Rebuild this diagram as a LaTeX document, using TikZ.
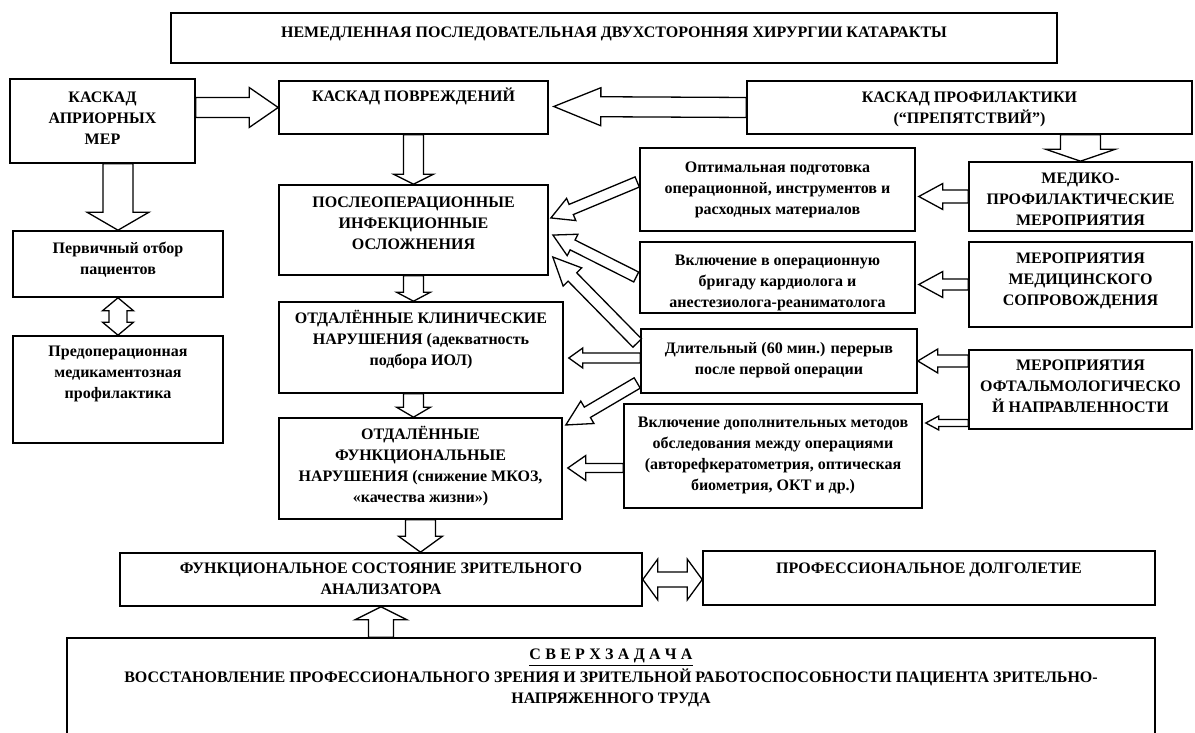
\documentclass[tikz,border=0pt]{standalone}
\usepackage{fontspec}
\setmainfont{Liberation Serif}
\usetikzlibrary{calc,positioning}

\newcommand\blockarr[5]{%
  \path let \p1=($(#2)-(#1)$) in \pgfextra{%
    \pgfmathsetmacro\bkang{atan2(\y1,\x1)}%
    \pgfmathsetmacro\bklen{veclen(\x1,\y1)}%
    \xdef\bkang{\bkang}\xdef\bklen{\bklen}};
  \draw[blk, shift={(#1)}, rotate=\bkang] (0,-#3) -- ({\bklen-#5},-#3) -- ({\bklen-#5},-#4)
    -- (\bklen,0) -- ({\bklen-#5},#4) -- ({\bklen-#5},#3) -- (0,#3) -- cycle;}

\newcommand\blockdarr[5]{%
  \path let \p1=($(#2)-(#1)$) in \pgfextra{%
    \pgfmathsetmacro\bkang{atan2(\y1,\x1)}%
    \pgfmathsetmacro\bklen{veclen(\x1,\y1)}%
    \xdef\bkang{\bkang}\xdef\bklen{\bklen}};
  \draw[blk, shift={(#1)}, rotate=\bkang] (0,0) -- (#5,#4) -- (#5,#3) -- ({\bklen-#5},#3)
    -- ({\bklen-#5},#4) -- (\bklen,0) -- ({\bklen-#5},-#4) -- ({\bklen-#5},-#3)
    -- (#5,-#3) -- (#5,-#4) -- cycle;}

\newcommand\lsp{\hspace{4.3pt}}

\begin{document}
\begin{tikzpicture}[x=1pt, y=1pt,
    box/.style={draw=black, line width=1.6pt, inner sep=0pt},
    capt/.style={font=\bfseries\fontsize{16}{21}\selectfont, align=center, inner sep=0pt},
    lowt/.style={font=\bfseries\fontsize{16}{21}\selectfont, align=center, inner sep=0pt},
    blk/.style={draw=black, line width=1.3pt, fill=white, line join=miter}]

    \useasboundingbox (0,0) rectangle (1195,733);

    \node[box, minimum width=886, minimum height=50] (title) at (614,695) {};
    \node[box, minimum width=185, minimum height=84] (apri) at (102.5,612) {};
    \node[box, minimum width=269, minimum height=53] (dmg) at (413.5,625.5) {};
    \node[box, minimum width=445, minimum height=53] (prev) at (969.5,625.5) {};
    \node[box, minimum width=210, minimum height=66] (psel) at (118,469) {};
    \node[box, minimum width=210, minimum height=107] (preop) at (118,343.5) {};
    \node[box, minimum width=269, minimum height=90] (post) at (413.5,503) {};
    \node[box, minimum width=284, minimum height=91] (clin) at (421,385.5) {};
    \node[box, minimum width=283, minimum height=101] (func) at (420.5,264.5) {};
    \node[box, minimum width=275, minimum height=83] (opt) at (777.5,543.5) {};
    \node[box, minimum width=275, minimum height=71] (brig) at (777.5,455.5) {};
    \node[box, minimum width=276, minimum height=64] (pause) at (779,372) {};
    \node[box, minimum width=298, minimum height=104] (exam) at (773,277) {};
    \node[box, minimum width=223, minimum height=69] (mpm) at (1080.5,536.5) {};
    \node[box, minimum width=223, minimum height=85] (msup) at (1080.5,448.5) {};
    \node[box, minimum width=223, minimum height=79] (ophth) at (1080.5,343.5) {};
    \node[box, minimum width=522, minimum height=53] (state) at (381,153.5) {};
    \node[box, minimum width=452, minimum height=54] (longev) at (929,155) {};
    \node[box, minimum width=1088, minimum height=100] (super) at (611,45) {};

    \node[capt, below=15pt of title.north] (t-title)
        {НЕМЕДЛЕННАЯ ПОСЛЕДОВАТЕЛЬНАЯ ДВУХСТОРОННЯЯ ХИРУРГИИ КАТАРАКТЫ};
    \node[capt, below=14pt of apri.north] (t-apri) {КАСКАД\\АПРИОРНЫХ\\МЕР};
    \node[capt, below=7pt of dmg.north] (t-dmg) {КАСКАД ПОВРЕЖДЕНИЙ};
    \node[capt, below=12pt of prev.north] (t-prev) {КАСКАД ПРОФИЛАКТИКИ\\(“ПРЕПЯТСТВИЙ”)};
    \node[lowt, below=12pt of psel.north] (t-psel) {Первичный отбор\\пациентов};
    \node[lowt, below=11pt of preop.north] (t-preop) {Предоперационная\\медикаментозная\\профилактика};
    \node[capt, below=13pt of post.north] (t-post) {ПОСЛЕОПЕРАЦИОННЫЕ\\ИНФЕКЦИОННЫЕ\\ОСЛОЖНЕНИЯ};
    \node[capt, below=9pt of clin.north] (t-clin)
        {ОТДАЛЁННЫЕ КЛИНИЧЕСКИЕ\\НАРУШЕНИЯ (адекватность\\подбора ИОЛ)};
    \node[capt, below=9pt of func.north] (t-func)
        {ОТДАЛЁННЫЕ\\ФУНКЦИОНАЛЬНЫЕ\\НАРУШЕНИЯ (снижение МКОЗ,\\«качества жизни»)};
    \node[lowt, below=15pt of opt.north] (t-opt)
        {Оптимальная подготовка\\операционной, инструментов и\\расходных материалов};
    \node[lowt, below=14pt of brig.north] (t-brig)
        {Включение в операционную\\бригаду кардиолога и\\анестезиолога-реаниматолога};
    \node[lowt, below=14pt of pause.north] (t-pause) {Длительный (60 мин.) перерыв\\после первой операции};
    \node[lowt, below=14pt of exam.north] (t-exam)
        {Включение дополнительных методов\\обследования между операциями\\(авторефкератометрия, оптическая\\биометрия, ОКТ и др.)};
    \node[capt, below=12pt of mpm.north] (t-mpm) {МЕДИКО-\\ПРОФИЛАКТИЧЕСКИЕ\\МЕРОПРИЯТИЯ};
    \node[capt, below=12pt of msup.north] (t-msup) {МЕРОПРИЯТИЯ\\МЕДИЦИНСКОГО\\СОПРОВОЖДЕНИЯ};
    \node[capt, below=11pt of ophth.north] (t-ophth) {МЕРОПРИЯТИЯ\\ОФТАЛЬМОЛОГИЧЕСКО\\Й НАПРАВЛЕННОСТИ};
    \node[capt, below=11pt of state.north] (t-state) {ФУНКЦИОНАЛЬНОЕ СОСТОЯНИЕ ЗРИТЕЛЬНОГО\\АНАЛИЗАТОРА};
    \node[capt, below=13pt of longev.north] (t-longev) {ПРОФЕССИОНАЛЬНОЕ ДОЛГОЛЕТИЕ};
    \node[capt, below=12pt of super.north] (t-super)
        {\underline{С\lsp В\lsp Е\lsp Р\lsp Х\lsp З\lsp А\lsp Д\lsp А\lsp Ч\lsp А}\\[2pt]ВОССТАНОВЛЕНИЕ ПРОФЕССИОНАЛЬНОГО ЗРЕНИЯ И ЗРИТЕЛЬНОЙ РАБОТОСПОСОБНОСТИ ПАЦИЕНТА ЗРИТЕЛЬНО-\\НАПРЯЖЕННОГО ТРУДА};

    \coordinate (a1s) at (apri.east |- dmg.west);
    \coordinate (a2e) at ($(dmg.east)+(5,1)$);
    \coordinate (a11s) at (mpm.north |- prev.south);
    \coordinate (a12e) at ($(opt.east |- mpm.west)+(3,0)$);
    \coordinate (a13e) at ($(brig.east |- msup.west)+(3,0)$);
    \coordinate (a14s) at (ophth.west |- pause.east);
    \coordinate (a15s) at ($(ophth.west)+(0,-33.5)$);
    \coordinate (a15e) at ($(exam.east |- a15s)+(3,0)$);
    \coordinate (a16s) at ($(opt.west)+(-2,7.5)$);
    \coordinate (a16e) at ($(post.east)+(2,12)$);
    \coordinate (a17s) at ($(brig.west)+(-3,0.5)$);
    \coordinate (a17e) at ($(post.east)+(4,-5)$);
    \coordinate (a18s) at ($(pause.west)+(-3,18)$);
    \coordinate (a18e) at ($(post.east)+(4,-27)$);
    \coordinate (a19s) at ($(pause.west)+(0,3)$);
    \coordinate (a19e) at ($(clin.east)+(5,-10.5)$);
    \coordinate (a20s) at ($(pause.west)+(-3,-22)$);
    \coordinate (a20e) at ($(func.east)+(3,43.5)$);
    \coordinate (a21s) at ($(exam.west)+(0,-12)$);
    \coordinate (a21e) at ($(func.east |- a21s)+(5,0)$);

    \blockarr{a1s}{dmg.west}{10}{20}{29}
    \blockarr{prev.west}{a2e}{10}{19}{47}
    \blockarr{dmg.south}{post.north}{10}{20}{10}
    \blockarr{psel.north |- apri.south}{psel.north}{15}{31}{18}
    \blockdarr{psel.south}{preop.north}{9}{15.5}{13}
    \blockarr{post.south}{post.south |- clin.north}{10}{17}{9}
    \blockarr{post.south |- clin.south}{post.south |- func.north}{10}{17}{10}
    \blockarr{func.south}{func.south |- state.north}{15}{22}{16}
    \blockarr{state.south |- super.north}{state.south}{12.5}{26}{13}
    \blockdarr{state.east}{longev.west |- state.east}{7.5}{20.5}{15}
    \blockarr{a11s}{mpm.north}{20}{35}{12}
    \blockarr{mpm.west}{a12e}{6.5}{13}{24}
    \blockarr{msup.west}{a13e}{5.5}{13}{24}
    \blockarr{a14s}{pause.east}{6}{12}{20}
    \blockarr{a15s}{a15e}{3.5}{7}{13}
    \blockarr{a16s}{a16e}{5.5}{12}{22}
    \blockarr{a17s}{a17e}{5.5}{12}{22}
    \blockarr{a18s}{a18e}{6}{13}{28}
    \blockarr{a19s}{a19e}{5}{10}{14}
    \blockarr{a20s}{a20e}{6}{13}{25}
    \blockarr{a21s}{a21e}{4.5}{12.5}{18}
\end{tikzpicture}
\end{document}
